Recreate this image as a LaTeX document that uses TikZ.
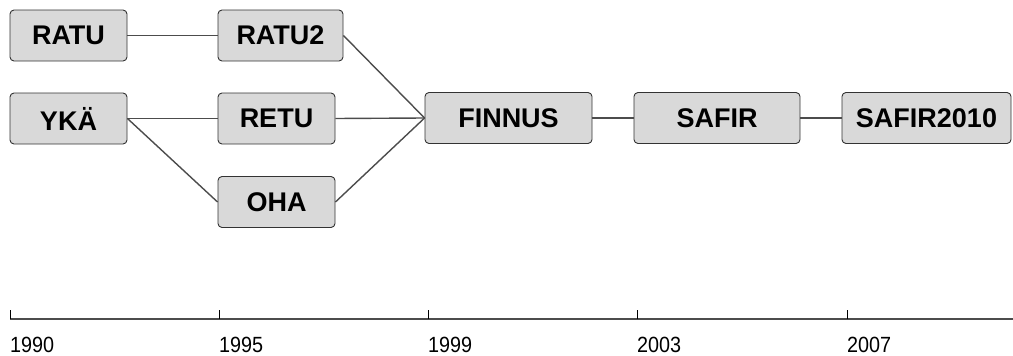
\documentclass[tikz,border=0pt]{standalone}
\usepackage{fontspec}
\setmainfont{Liberation Sans}
\begin{document}
\begin{tikzpicture}[x=1pt,y=-1pt,
  box/.style={draw=black!80, line width=0.9pt, fill=black!15, rounded corners=4pt,
    minimum height=51pt, inner sep=0pt, font=\fontsize{27}{30}\selectfont\bfseries},
  link/.style={draw=black!70, line width=1.4pt},
  yr/.style={anchor=base west, inner sep=0pt, font=\fontsize{22}{24}\selectfont}]
\useasboundingbox (0,0) rectangle (1013,356);
\node[box, minimum width=117pt] (ratu)  at (68.5,35.5) {RATU};
\node[box, minimum width=125pt] (ratu2) at (280.5,35.5) {RATU2};
\node[box, minimum width=117pt] (yka)   at (68.5,118.5) {YKÄ};
\node[box, minimum width=117pt] (retu)  at (276.5,118.5) {RETU};
\node[box, minimum width=117pt] (oha)   at (276.5,202) {OHA};
\node[box, minimum width=167pt] (finnus) at (508.5,118) {FINNUS};
\node[box, minimum width=166pt] (safir) at (717,118) {SAFIR};
\node[box, minimum width=169pt] (safir2) at (926.5,118) {SAFIR2010};
\draw[link] (ratu.east) -- (ratu2.west);
\draw[link] (yka.east) -- (retu.west);
\draw[link] (yka.east) -- (oha.west);
\draw[link] (ratu2.east) -- (finnus.west);
\draw[link] (retu.east) -- (finnus.west);
\draw[link] (oha.east) -- (finnus.west);
\draw[link] (finnus.east) -- (safir.west);
\draw[link] (safir.east) -- (safir2.west);
% timeline
\draw[black!70, line width=1.8pt] (10,319) -- (1013,319);
\foreach \x/\y in {10/1990, 219/1995, 428/1999, 637/2003, 847/2007}{
  \draw[black, line width=0.7pt] (\x,310) -- (\x,319);
  \node[yr] at (\x,352) {\scalebox{0.9}[1]{\y}};
}
\end{tikzpicture}
\end{document}
